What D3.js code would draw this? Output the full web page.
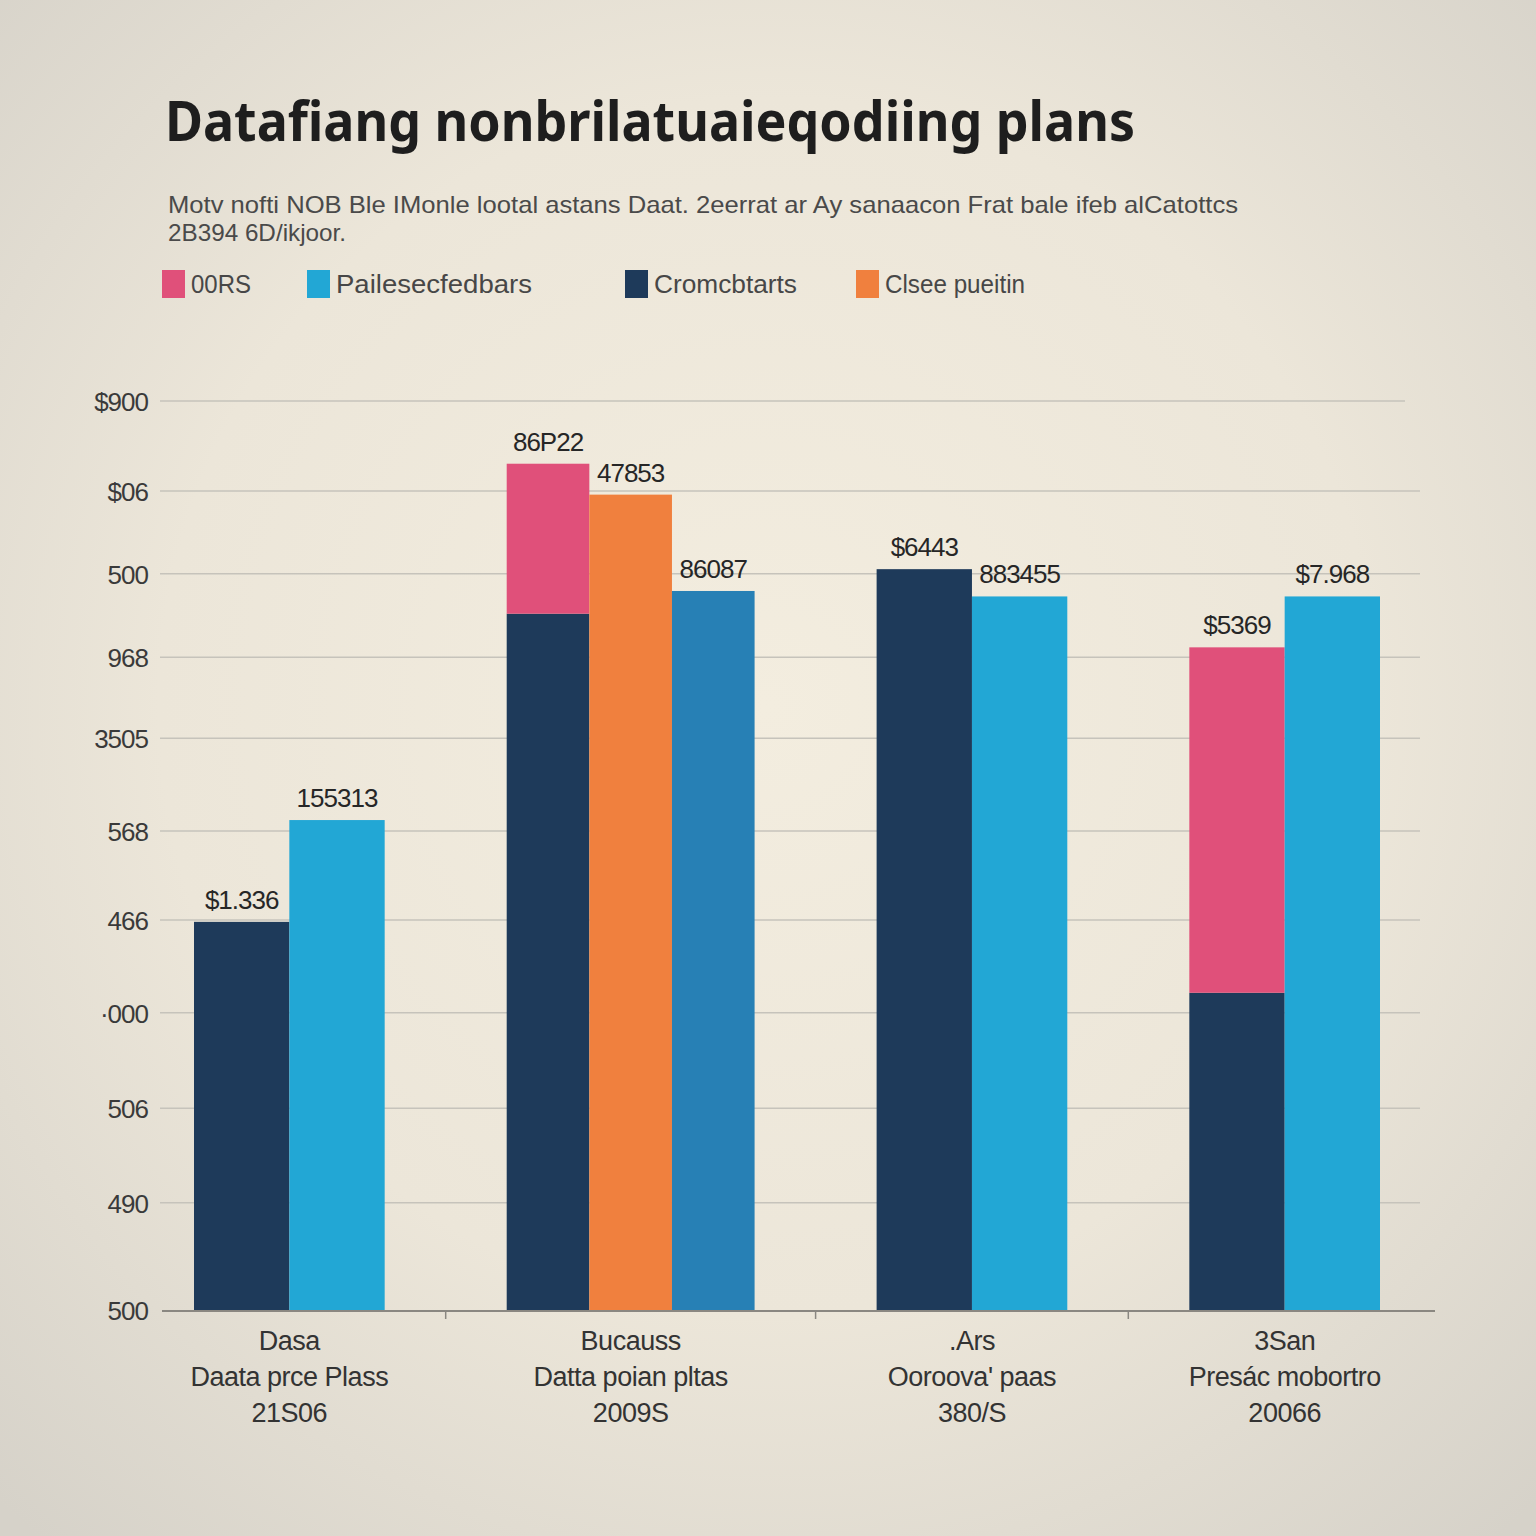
<!DOCTYPE html>
<html>
<head>
<meta charset="utf-8">
<script src="https://cdn.jsdelivr.net/npm/d3@7"></script>
<style>
  html, body { margin: 0; padding: 0; }
  body { width: 1536px; height: 1536px; overflow: hidden; }
  svg { display: block; }
</style>
</head>
<body>
<script>
// ---------- data ----------
const categories = ["Dasa", "Bucauss", ".Ars", "3San"];
const categorySub = ["Daata prce Plass", "Datta poian  pltas", "Ooroova' paas", "Presác mobortro"];
const categoryYear = ["21S06", "2009S", "380/S", "20066"];

const seriesNames = ["00RS", "Pailesecfedbars", "Cromcbtarts", "Clsee pueitin"];

const navyValues   = [4.27, 7.66, 8.15, 3.49];
const pinkValues   = [0, 1.65, 0, 3.80];
const orangeValues = [null, 8.97, null, null];
const cyanValues   = [5.39, 7.91, 7.85, 7.85];

const stackLabels  = ["$1.336", "86P22", "$6443", "$5369"];
const orangeLabels = [null, "47853", null, null];
const cyanLabels   = ["155313", "86087", "883455", "$7.968"];

const yTickValues = [0, 1.18, 2.22, 3.27, 4.29, 5.27, 6.29, 7.18, 8.10, 9.01, 10];
const yTickLabels = ["500", "490", "506", "·000", "466", "568", "3505", "968", "500", "$06", "$900"];

const titleText = "Datafiang nonbrilatuaieqodiing  plans";
const subtitleLines = [
  "Motv nofti NOB Ble IMonle lootal astans Daat. 2eerrat ar Ay sanaacon Frat bale ifeb alCatottcs",
  "2B394 6D/ikjoor."
];

// ---------- style ----------
const colors = {
  pink: "#e0507a", cyan: "#22a7d5", navy: "#1e3a5a", orange: "#f0803e", blue: "#2780b5"
};
const legendColors = [colors.pink, colors.cyan, colors.navy, colors.orange];

const W = 1536, H = 1536;
const svg = d3.select("body").append("svg").attr("width", W).attr("height", H);

// background
const defs = svg.append("defs");
const rg = defs.append("radialGradient").attr("id", "bg")
  .attr("cx", "50%").attr("cy", "46%").attr("r", "72%");
rg.append("stop").attr("offset", "0%").attr("stop-color", "#f3eddf");
rg.append("stop").attr("offset", "55%").attr("stop-color", "#ece6d9");
rg.append("stop").attr("offset", "100%").attr("stop-color", "#d6d2c9");
svg.append("rect").attr("width", W).attr("height", H).attr("fill", "url(#bg)");

const font = "'Liberation Sans', Arial, sans-serif";

// title
svg.append("text").attr("x", 165).attr("y", 141)
  .attr("font-family", "'Noto Sans', 'Open Sans', sans-serif").attr("font-weight", 700)
  .attr("font-size", 56).attr("fill", "#1e1e1e")
  .attr("textLength", 970).attr("lengthAdjust", "spacingAndGlyphs")
  .text(titleText);

// subtitle
const subLen = [1070, 178];
svg.selectAll("text.sub").data(subtitleLines).join("text").attr("class", "sub")
  .attr("x", 168).attr("y", (d, i) => 213 + i * 28)
  .attr("font-family", font).attr("font-size", 24).attr("fill", "#4a4a4a")
  .attr("textLength", (d, i) => subLen[i]).attr("lengthAdjust", "spacingAndGlyphs")
  .text(d => d);

// legend
const legendX = [162, 307, 625, 856];
const legendTextLen = [60, 196, 143, 140];
const lg = svg.selectAll("g.leg").data(seriesNames).join("g").attr("class", "leg")
  .attr("transform", (d, i) => `translate(${legendX[i]},270)`);
lg.append("rect").attr("width", 23).attr("height", 28).attr("fill", (d, i) => legendColors[i]);
lg.append("text").attr("x", 29).attr("y", 23)
  .attr("font-family", font).attr("font-size", 25).attr("fill", "#474747")
  .attr("textLength", (d, i) => legendTextLen[i]).attr("lengthAdjust", "spacingAndGlyphs")
  .text(d => d);

// scales
const y = d3.scaleLinear().domain([0, 10]).range([1310, 401]);

// group layout in units: each group's width depends on its bar count, equal gaps between groups
const barCount = categories.map((c, i) => orangeValues[i] != null ? 3 : 2);
const groupUnits = barCount.map(n => n === 3 ? 2.6 : 2);
const gapUnits = 1.28;
const groupStart = [];
let acc = 0;
groupUnits.forEach((u, i) => { groupStart.push(acc); acc += u + (i < groupUnits.length - 1 ? gapUnits : 0); });
const x = d3.scaleLinear().domain([0, acc]).range([194, 1380]);

// gridlines
svg.append("g").selectAll("line").data(yTickValues.slice(1)).join("line")
  .attr("x1", 160).attr("x2", (d, i) => i === yTickValues.length - 2 ? 1405 : 1420)
  .attr("y1", d => y(d)).attr("y2", d => y(d))
  .attr("stroke", "#c6c3bb").attr("stroke-width", 1.5);

// y tick labels
svg.append("g").selectAll("text").data(yTickValues).join("text")
  .attr("x", 148).attr("y", d => y(d) + 10)
  .attr("text-anchor", "end")
  .attr("font-family", font).attr("font-size", 26).attr("fill", "#3a3a3a")
  .attr("letter-spacing", -1)
  .text((d, i) => yTickLabels[i]);

// build bars
const bars = [];
const labels = [];
categories.forEach((c, gi) => {
  const slots = ["stack"];
  if (orangeValues[gi] != null) slots.push("orange");
  slots.push("cyan");
  const g0 = x(groupStart[gi]);
  const g1 = x(groupStart[gi] + groupUnits[gi]);
  const inner = d3.scaleBand().domain(slots).range([g0, g1]);
  const bw = inner.bandwidth();
  // stacked navy + pink
  const sx = inner("stack");
  bars.push({ x: sx, w: bw, y0: 0, y1: navyValues[gi], color: colors.navy });
  let top = navyValues[gi];
  if (pinkValues[gi] > 0) {
    bars.push({ x: sx, w: bw, y0: top, y1: top + pinkValues[gi], color: colors.pink });
    top += pinkValues[gi];
  }
  labels.push({ cx: sx + bw / 2, v: top, t: stackLabels[gi] });
  if (orangeValues[gi] != null) {
    const ox = inner("orange");
    bars.push({ x: ox, w: bw, y0: 0, y1: orangeValues[gi], color: colors.orange });
    labels.push({ cx: ox + bw / 2, v: orangeValues[gi], t: orangeLabels[gi] });
  }
  const cx = inner("cyan");
  bars.push({ x: cx, w: bw, y0: 0, y1: cyanValues[gi],
    color: slots.length === 3 ? colors.blue : colors.cyan });
  labels.push({ cx: cx + bw / 2, v: cyanValues[gi], t: cyanLabels[gi] });
});

svg.append("g").selectAll("rect").data(bars).join("rect")
  .attr("x", d => d.x).attr("width", d => d.w)
  .attr("y", d => y(d.y1)).attr("height", d => y(d.y0) - y(d.y1))
  .attr("fill", d => d.color);

svg.append("g").selectAll("text").data(labels).join("text")
  .attr("x", d => d.cx).attr("y", d => y(d.v) - 13)
  .attr("text-anchor", "middle")
  .attr("font-family", font).attr("font-size", 26).attr("fill", "#262626")
  .attr("letter-spacing", -1)
  .text(d => d.t);

// x axis
svg.append("line").attr("x1", 162).attr("x2", 1435).attr("y1", 1311).attr("y2", 1311)
  .attr("stroke", "#8a8781").attr("stroke-width", 2);
svg.append("g").selectAll("line").data(categories.slice(1)).join("line")
  .attr("x1", (d, i) => x(groupStart[i + 1] - gapUnits / 2))
  .attr("x2", (d, i) => x(groupStart[i + 1] - gapUnits / 2))
  .attr("y1", 1311).attr("y2", 1319)
  .attr("stroke", "#8a8781").attr("stroke-width", 1.5);

// x labels
const xl = svg.append("g").selectAll("g").data(categories).join("g")
  .attr("transform", (d, i) => `translate(${x(groupStart[i] + groupUnits[i] / 2)},0)`);
[categories, categorySub, categoryYear].forEach((arr, li) => {
  xl.append("text").attr("y", 1350 + li * 36)
    .attr("text-anchor", "middle")
    .attr("font-family", font).attr("font-size", 27).attr("fill", "#333")
    .attr("letter-spacing", -0.5)
    .text((d, i) => arr[i]);
});
</script>
</body>
</html>
